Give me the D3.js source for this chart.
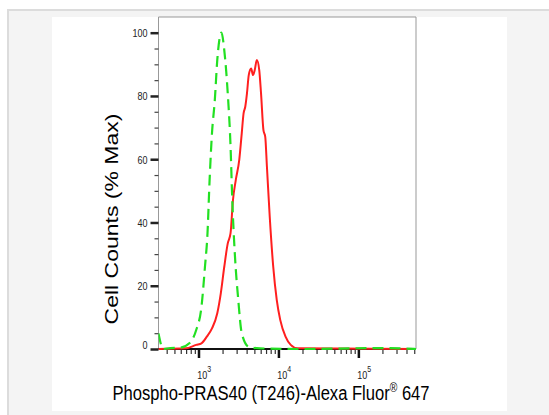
<!DOCTYPE html>
<meta charset="utf-8">
<style>
body {
  margin: 0;
  background: #fff;
}
text {
  font-family: "Liberation Sans", Arial, sans-serif;
}
</style>
<body>
<script src="https://cdn.jsdelivr.net/npm/d3@7/dist/d3.min.js"></script>
<script>

var width = 549,
    height = 415;

// fluorescence intensity (x) and % of max (y)
var controlX = [316, 362, 443, 590, 767, 936, 1090, 1205, 1296, 1377, 1475, 1600, 1718, 1940,
                2101, 2323, 2518, 2646, 2844, 3145, 3476, 4254, 5906, 18670, 186700, 526000];
var controlY = [4.9, 0, 0.3, 0.4, 1.8, 6, 13.4, 26, 36.6, 53.4, 68.2, 78.7, 91.4, 100,
                94.5, 80.8, 64, 47.1, 30.3, 15.5, 5, 0.7, 0.2, 0, 0.3, 0];

var sampleX = [316, 693, 936, 1090, 1270, 1475, 1718, 1901, 2101, 2323, 2518, 2700, 2926, 3236,
               3476, 3664, 3846, 4040, 4254, 4560, 4800, 5055, 5370, 5755, 6060, 6494, 6840,
               7180, 7784, 8610, 9525, 10530, 12270, 14250, 17420, 526000];
var sampleY = [0, 0.2, 1.3, 1.8, 3.9, 6.5, 11.3, 17.6, 26, 33.4, 36.6, 47.1, 53.4, 59.8,
               68.2, 74.5, 76.6, 80.8, 86.6, 88.7, 86.6, 88.2, 91.4, 88.2, 80.8, 69.2, 67.1,
               57.6, 41.8, 26, 15.5, 9.2, 3.9, 1.3, 0.2, 0];

var yMajor = [0, 20, 40, 60, 80, 100];
var xMajor = [1e3, 1e4, 1e5];
var xMajorExp = ["3", "4", "5"];

var xTitle = "Phospho-PRAS40 (T246)-Alexa Fluor";
var xTitleSup = "\u00ae";
var xTitleEnd = " 647";
var yTitle = "Cell Counts (% Max)";

var margin = {left: 158.5, right: 416, top: 17, bottom: 349};

var svg = d3.select("body").append("svg")
    .attr("width", width)
    .attr("height", height);

// page frame and white panel
svg.append("rect")
    .attr("x", 7).attr("y", 9)
    .attr("width", width - 7).attr("height", height - 9)
    .attr("fill", "#f4f4f4");
svg.append("rect")
    .attr("x", 7).attr("y", 9)
    .attr("width", width - 7).attr("height", 2)
    .attr("fill", "#dcdcdc");
svg.append("rect")
    .attr("x", 7).attr("y", 9)
    .attr("width", 2).attr("height", height - 9)
    .attr("fill", "#dcdcdc");
svg.append("rect")
    .attr("x", 52).attr("y", 17)
    .attr("width", 455).attr("height", 394)
    .attr("fill", "#fff");

var x = d3.scaleLog()
    .domain([316, 526000])
    .range([margin.left, margin.right]);

var y = d3.scaleLinear()
    .domain([0, 100])
    .range([margin.bottom, 32.7]);

// plot box
svg.append("path")
    .attr("d", "M" + margin.left + "," + margin.bottom + "V" + margin.top +
               "H" + margin.right + "V" + margin.bottom)
    .attr("fill", "none")
    .attr("stroke", "#999")
    .attr("stroke-width", 1);

// y axis
var yMinor = d3.range(0, 101, 5).filter(function(d) { return d % 20 != 0; });

svg.append("g")
    .attr("transform", "translate(" + margin.left + ",0)")
    .call(d3.axisLeft(y).tickValues(yMinor).tickSize(4).tickFormat(""))
    .call(function(g) {
      g.select(".domain").remove();
      g.selectAll("line").attr("stroke", "#444").attr("stroke-width", 1.2);
    });

var yAxis = svg.append("g")
    .attr("transform", "translate(" + margin.left + ",0)")
    .call(d3.axisLeft(y).tickValues(yMajor).tickSize(8).tickPadding(3).tickFormat(d3.format("d")))
    .call(function(g) {
      g.select(".domain").remove();
      g.selectAll("line").attr("stroke", "#222").attr("stroke-width", 2.5);
    });

yAxis.selectAll("text")
    .attr("fill", "#222")
    .style("font-size", "11px")
    .attr("dy", function(d) { return d == 0 ? "-0.05em" : "0.35em"; })
    .attr("transform", "scale(0.82,1)")
    .attr("x", -11 / 0.82);

// x axis
var xMinor = [];
[100, 1000, 10000, 100000].forEach(function(dec) {
  d3.range(2, 10).forEach(function(k) {
    var v = dec * k;
    if (v >= 316 && v <= 526000) xMinor.push(v);
  });
});

svg.append("g")
    .attr("transform", "translate(0," + margin.bottom + ")")
    .call(d3.axisBottom(x).tickValues(xMinor).tickSize(5).tickFormat(""))
    .call(function(g) {
      g.select(".domain").remove();
      g.selectAll("line").attr("stroke", "#333").attr("stroke-width", 1.2);
    });

var xAxis = svg.append("g")
    .attr("transform", "translate(0," + margin.bottom + ")")
    .call(d3.axisBottom(x).tickValues(xMajor).tickSize(9).tickFormat(""))
    .call(function(g) {
      g.select(".domain").remove();
      g.selectAll("line").attr("stroke", "#111").attr("stroke-width", 2.5);
    });

xAxis.selectAll(".tick").append("text")
    .attr("x", -2)
    .attr("y", 30)
    .attr("fill", "#222")
    .attr("text-anchor", "start")
    .attr("transform", "scale(0.82,1)")
    .style("font-size", "11px")
    .text("10")
  .append("tspan")
    .attr("dy", -7)
    .style("font-size", "8.5px")
    .text(function(d, i) { return xMajorExp[i]; });

// black baseline
svg.append("line")
    .attr("x1", margin.left).attr("x2", margin.right)
    .attr("y1", margin.bottom).attr("y2", margin.bottom)
    .attr("stroke", "#111")
    .attr("stroke-width", 2);

// curves
svg.append("clipPath").attr("id", "clip")
  .append("rect")
    .attr("x", margin.left).attr("y", margin.top)
    .attr("width", margin.right - margin.left)
    .attr("height", margin.bottom - margin.top + 1);

var line = d3.line()
    .x(function(d) { return x(d[0]); })
    .y(function(d) { return y(d[1]); })
    .curve(d3.curveMonotoneX);

var sample = d3.zip(sampleX, sampleY);
var control = d3.zip(controlX, controlY);

svg.append("path")
    .datum(sample)
    .attr("clip-path", "url(#clip)")
    .attr("d", line)
    .attr("fill", "none")
    .attr("stroke", "#ff1f1f")
    .attr("stroke-width", 2);

svg.append("path")
    .datum(control)
    .attr("clip-path", "url(#clip)")
    .attr("d", line)
    .attr("fill", "none")
    .attr("stroke", "#22e022")
    .attr("stroke-width", 2.2)
    .attr("stroke-dasharray", "11,6");

// titles
var xt = svg.append("text")
    .attr("transform", "translate(271,400) scale(0.79,1)")
    .attr("text-anchor", "middle")
    .attr("fill", "#000")
    .style("font-size", "21px")
    .text(xTitle);
xt.append("tspan")
    .attr("dy", -8)
    .style("font-size", "13px")
    .text(xTitleSup);
xt.append("tspan")
    .attr("dy", 8)
    .text(xTitleEnd);

svg.append("text")
    .attr("transform", "translate(118,219) scale(0.79,1) rotate(-90)")
    .attr("text-anchor", "middle")
    .attr("fill", "#000")
    .style("font-size", "23px")
    .text(yTitle);

</script>
</body>
